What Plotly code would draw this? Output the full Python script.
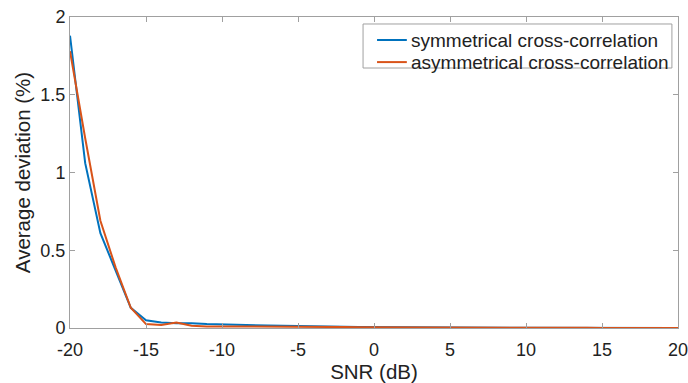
import plotly.graph_objects as go

snr = list(range(-20, 21))
sym = [1.88, 1.06, 0.61, 0.37, 0.13, 0.05, 0.035, 0.03, 0.03, 0.025, 0.022,
       0.02, 0.018, 0.016, 0.015, 0.012, 0.01, 0.009, 0.008, 0.007, 0.006,
       0.005, 0.005, 0.004, 0.004, 0.003, 0.003, 0.002, 0.002, 0.001, 0.001,
       0.001, 0.001, 0.001, 0.001, 0.0, 0.0, 0.0, 0.0, 0.0, 0.0]
asym = [1.78, 1.22, 0.69, 0.39, 0.13, 0.025, 0.02, 0.035, 0.015, 0.01, 0.01,
        0.01, 0.01, 0.009, 0.009, 0.008, 0.008, 0.007, 0.006, 0.005, 0.005,
        0.004, 0.004, 0.004, 0.003, 0.003, 0.003, 0.002, 0.002, 0.002, 0.001,
        0.001, 0.001, 0.001, 0.001, 0.0, 0.0, 0.0, 0.0, 0.0, 0.0]
series_names = ["symmetrical cross-correlation", "asymmetrical cross-correlation"]
series_colors = ["#0072BD", "#D95319"]
x_ticks = [-20, -15, -10, -5, 0, 5, 10, 15, 20]
x_labels = ["-20", "-15", "-10", "-5", "0", "5", "10", "15", "20"]
y_ticks = [0, 0.5, 1, 1.5, 2]
y_labels = ["0", "0.5", "1", "1.5", "2"]

fig = go.Figure()
for name, ys, col in zip(series_names, [sym, asym], series_colors):
    fig.add_trace(go.Scatter(x=snr, y=ys, mode="lines", name=name,
                             line=dict(color=col, width=2), showlegend=False))

axis_common = dict(showgrid=False, zeroline=False, showline=True, linecolor="#a0a0a0",
                   linewidth=1, mirror="ticks", ticks="inside", ticklen=5,
                   tickcolor="#a0a0a0", tickfont=dict(size=18, color="#222"),
                   automargin=False, ticklabeloverflow="allow")
fig.update_xaxes(range=[-20, 20], tickvals=x_ticks, ticktext=x_labels, ticklabelstandoff=5,
                 title=dict(text="SNR (dB)", font=dict(size=20.5, color="#222"), standoff=0),
                 **axis_common)
fig.update_yaxes(range=[0, 2], tickvals=y_ticks, ticktext=y_labels,
                 title=dict(text="Average deviation (%)", font=dict(size=20.5, color="#222"), standoff=4),
                 **axis_common)

# manual legend box (MATLAB style, compact rows)
box = dict(x0=0.482, x1=0.990, y0=0.836, y1=0.9775)
fig.add_shape(type="rect", xref="paper", yref="paper", line=dict(color="#a0a0a0", width=1),
              fillcolor="white", layer="above", **box)
rows_y = [0.926, 0.855]
for name, col, ry in zip(series_names, series_colors, rows_y):
    fig.add_shape(type="line", xref="paper", yref="paper", x0=0.505, x1=0.554, y0=ry, y1=ry,
                  line=dict(color=col, width=2), layer="above")
    fig.add_annotation(xref="paper", yref="paper", x=0.5576, y=ry, text=name, showarrow=False,
                       xanchor="left", yanchor="middle", font=dict(size=19, color="#222"))

fig.update_layout(
    width=688, height=383,
    margin=dict(l=70, r=10, t=17, b=55),
    paper_bgcolor="white", plot_bgcolor="white",
    font=dict(family="Liberation Sans, Arial, sans-serif", color="#222"),
    showlegend=False,
)
fig.write_html("out.html")
